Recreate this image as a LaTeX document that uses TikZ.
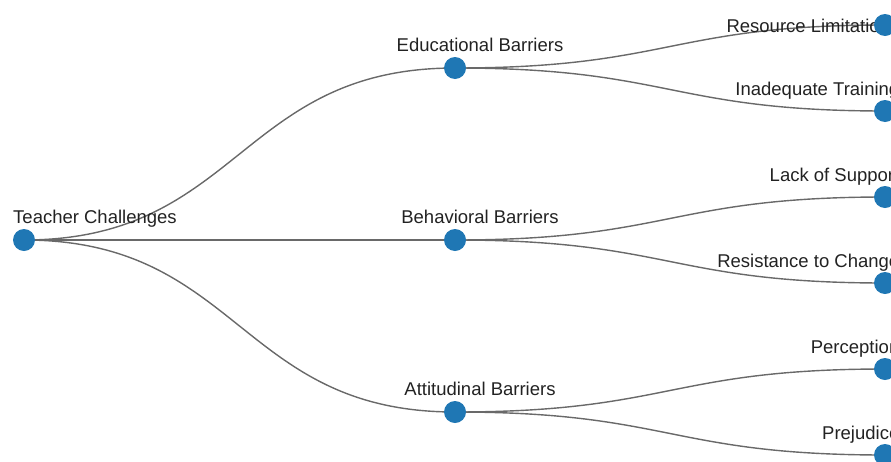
\documentclass[tikz,border=0pt]{standalone}
\usepackage{fontspec}
\setmainfont{Liberation Sans}
\definecolor{dotblue}{RGB}{31,119,180}
\definecolor{linkgray}{RGB}{105,105,105}
\definecolor{labelgray}{RGB}{34,34,34}
\tikzset{
  link/.style={draw=linkgray, line width=1.4pt},
  dot/.style={circle, fill=dotblue, minimum size=22pt, inner sep=0pt},
  lbl/.style={inner sep=0pt, text=labelgray, font=\fontsize{18.5}{21}\selectfont}
}
\begin{document}
\begin{tikzpicture}[x=1pt, y=-1pt]
  \useasboundingbox (0,0) rectangle (891,461);
  \clip (0,0) rectangle (891,461);
  % tree points
  \coordinate (root) at (24,240);
  \coordinate (edu) at (455,68);
  \coordinate (beh) at (455,240);
  \coordinate (att) at (455,412);
  \coordinate (res) at (885,25);
  \coordinate (tra) at (885,111);
  \coordinate (sup) at (885,197);
  \coordinate (chg) at (885,283);
  \coordinate (per) at (885,369);
  \coordinate (pre) at (885,455);
  % links
  \draw[link] (root) .. controls (239.5,240) and (239.5,68) .. (edu);
  \draw[link] (root) -- (beh);
  \draw[link] (root) .. controls (239.5,240) and (239.5,412) .. (att);
  \draw[link] (edu) .. controls (670,68) and (670,25) .. (res);
  \draw[link] (edu) .. controls (670,68) and (670,111) .. (tra);
  \draw[link] (beh) .. controls (670,240) and (670,197) .. (sup);
  \draw[link] (beh) .. controls (670,240) and (670,283) .. (chg);
  \draw[link] (att) .. controls (670,412) and (670,369) .. (per);
  \draw[link] (att) .. controls (670,412) and (670,455) .. (pre);
  % labels
  \node[lbl, anchor=base west] (root-label) at (13,223) {Teacher Challenges};
  \node[lbl, anchor=base] (edu-label) at (480,51) {Educational Barriers};
  \node[lbl, anchor=base] (beh-label) at (480,223) {Behavioral Barriers};
  \node[lbl, anchor=base] (att-label) at (480,395) {Attitudinal Barriers};
  \node[lbl, anchor=base east] (res-label) at (899.5,32) {Resource Limitations};
  \node[lbl, anchor=base east] (tra-label) at (899.5,95) {Inadequate Training};
  \node[lbl, anchor=base east] (sup-label) at (899.5,181) {Lack of Support};
  \node[lbl, anchor=base east] (chg-label) at (899.5,267) {Resistance to Change};
  \node[lbl, anchor=base east] (per-label) at (899.5,353) {Perception};
  \node[lbl, anchor=base east] (pre-label) at (899.5,439) {Prejudice};
  % dots
  \node[dot] (root-dot) at (root) {};
  \node[dot] (edu-dot) at (edu) {};
  \node[dot] (beh-dot) at (beh) {};
  \node[dot] (att-dot) at (att) {};
  \node[dot] (res-dot) at (res) {};
  \node[dot] (tra-dot) at (tra) {};
  \node[dot] (sup-dot) at (sup) {};
  \node[dot] (chg-dot) at (chg) {};
  \node[dot] (per-dot) at (per) {};
  \node[dot] (pre-dot) at (pre) {};
\end{tikzpicture}
\end{document}
